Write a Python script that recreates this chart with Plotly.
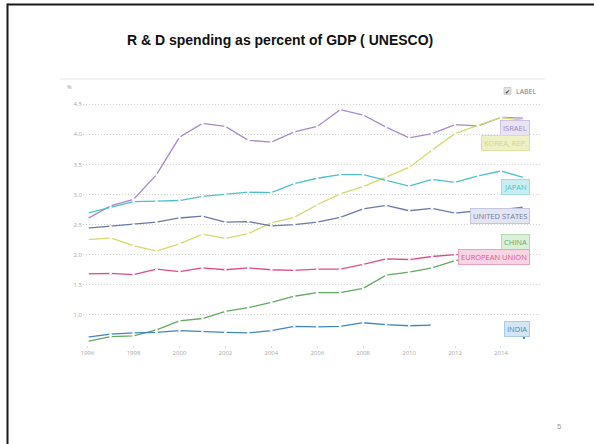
import plotly.graph_objects as go

years = list(range(1996, 2016))

israel = [2.60, 2.81, 2.92, 3.33, 3.95, 4.18, 4.13, 3.90, 3.87, 4.04, 4.13, 4.41, 4.32, 4.12, 3.94, 4.01, 4.16, 4.14, 4.28, 4.27]
korea = [2.25, 2.28, 2.15, 2.06, 2.18, 2.34, 2.27, 2.35, 2.53, 2.62, 2.83, 3.01, 3.13, 3.29, 3.45, 3.74, 4.01, 4.15, 4.28, 4.23]
japan = [2.69, 2.78, 2.88, 2.89, 2.90, 2.97, 3.01, 3.04, 3.03, 3.18, 3.27, 3.33, 3.33, 3.23, 3.14, 3.25, 3.20, 3.31, 3.39, 3.28]
usa = [2.44, 2.47, 2.50, 2.54, 2.61, 2.64, 2.54, 2.55, 2.48, 2.50, 2.54, 2.62, 2.76, 2.82, 2.73, 2.77, 2.69, 2.73, 2.75, 2.79]
eu = [1.68, 1.69, 1.67, 1.76, 1.72, 1.78, 1.75, 1.78, 1.75, 1.74, 1.76, 1.76, 1.84, 1.93, 1.92, 1.97, 2.00, 2.01, 2.03, 2.04]
china = [0.56, 0.64, 0.65, 0.75, 0.90, 0.94, 1.06, 1.12, 1.21, 1.31, 1.37, 1.37, 1.44, 1.66, 1.71, 1.78, 1.90, 1.96, 2.03, 2.07]
india = [0.63, 0.68, 0.70, 0.71, 0.74, 0.72, 0.71, 0.70, 0.74, 0.81, 0.80, 0.81, 0.87, 0.84, 0.82, 0.83, None, None, None, 0.62]

series_names = ["ISRAEL", "KOREA, REP.", "JAPAN", "UNITED STATES", "CHINA", "EUROPEAN UNION", "INDIA"]
series_values = [israel, korea, japan, usa, china, eu, india]
line_colors = ["#a58bc8", "#d5d96e", "#4fc0ca", "#6b78a9", "#64a863", "#df4a88", "#3f86c0"]
label_bg = ["#e9e3f2", "#eef0c8", "#c9eef1", "#e3e5f0", "#dcefda", "#f8d5e3", "#d4e6f4"]
label_border = ["#cfc3e2", "#dde0a0", "#9fdde2", "#c2c7de", "#b7dcb4", "#ee9fbf", "#a9cbe8"]
label_text = ["#9c86c2", "#d3d67e", "#52c0c8", "#6f7aa8", "#67a867", "#df568d", "#4a87c0"]
label_y = [4.11, 3.86, 3.13, 2.64, 2.21, 1.955, 0.77]

ytick_vals = [1.0, 1.5, 2.0, 2.5, 3.0, 3.5, 4.0, 4.5]
xtick_vals = list(range(1996, 2016, 2))

W, H = 594, 444
L, R, T, B = 83, 52, 98, 99
PW, PH = W - L - R, H - T - B


def px(x):
    return (x - L) / PW


def py(y):
    return (H - B - y) / PH


fig = go.Figure()
for name, vals, col in zip(series_names, series_values, line_colors):
    mcolors = []
    for i, v in enumerate(vals):
        prev_ok = i > 0 and vals[i - 1] is not None
        next_ok = i < len(vals) - 1 and vals[i + 1] is not None
        mcolors.append("white" if (prev_ok or next_ok) else col)
    fig.add_trace(go.Scatter(
        x=years, y=vals, name=name, mode="lines+markers",
        line=dict(color=col, width=1.3),
        marker=dict(size=2.5, color=mcolors, line=dict(width=0)),
        connectgaps=False, showlegend=False, hoverinfo="x+y+name",
    ))

annotations = []
for name, yv, bg, bd, tc in zip(series_names, label_y, label_bg, label_border, label_text):
    annotations.append(dict(
        x=2015.27, y=yv, xref="x", yref="y", xanchor="right", yanchor="middle",
        text=name, showarrow=False,
        font=dict(family="Open Sans", size=7.5, color=tc),
        bgcolor=bg, bordercolor=bd, borderwidth=1, borderpad=2,
    ))

annotations += [
    dict(x=px(280), y=py(40), xref="paper", yref="paper", text="<b>R & D spending as percent of GDP ( UNESCO)</b>",
         showarrow=False, xanchor="center", yanchor="middle",
         font=dict(family="Liberation Sans, Arial", size=14, color="#111111")),
    dict(x=px(69), y=py(87), xref="paper", yref="paper", text="%", showarrow=False,
         xanchor="center", yanchor="middle", font=dict(family="Open Sans", size=5.5, color="#999999")),
    dict(x=px(514), y=py(91), xref="paper", yref="paper", text="LABEL", showarrow=False,
         xanchor="left", yanchor="middle", font=dict(family="Open Sans", size=7, color="#777777")),
    dict(x=px(507.5), y=py(91), xref="paper", yref="paper", text="✔", showarrow=False,
         xanchor="center", yanchor="middle", font=dict(family="DejaVu Sans", size=6, color="#333333")),
    dict(x=px(559), y=py(426), xref="paper", yref="paper", text="5", showarrow=False,
         xanchor="center", yanchor="middle", font=dict(family="Liberation Sans, Arial", size=8, color="#999999")),
]

shapes = [
    # slide border
    dict(type="line", xref="paper", yref="paper", x0=px(7.5), x1=px(600), y0=py(4.5), y1=py(4.5),
         line=dict(color="#1a1a1a", width=2)),
    dict(type="line", xref="paper", yref="paper", x0=px(7.5), x1=px(7.5), y0=py(3.5), y1=py(450),
         line=dict(color="#1a1a1a", width=2)),
    # separator below title
    dict(type="line", xref="paper", yref="paper", x0=px(60), x1=px(545), y0=py(79), y1=py(79),
         line=dict(color="#e6e6e6", width=1)),
    # checkbox
    dict(type="rect", xref="paper", yref="paper", x0=px(504), x1=px(511), y0=py(87.5), y1=py(94.5),
         fillcolor="#e4e4e4", line=dict(color="#bbbbbb", width=0.6)),
]

fig.update_layout(
    width=W, height=H,
    margin=dict(l=L, r=R, t=T, b=B, autoexpand=False),
    paper_bgcolor="white", plot_bgcolor="white",
    annotations=annotations, shapes=shapes,
    xaxis=dict(range=[1995.8, 1996 + (PW - 4.5) / 22.97], tickvals=xtick_vals,
               showgrid=False, zeroline=False, showline=False,
               ticks="outside", ticklen=2, tickcolor="#dddddd",
               tickfont=dict(family="Open Sans", size=6, color="#aaaaaa")),
    yaxis=dict(range=[0.5, 0.5 + PH / 60.2], tickvals=ytick_vals, tickformat=".1f",
               showgrid=True, gridcolor="#d4d4d4", griddash="1px,2px", gridwidth=1,
               zeroline=False, showline=False, ticks="",
               tickfont=dict(family="Open Sans", size=6, color="#aaaaaa")),
)

fig.write_html(
    "out.html",
    config={"displayModeBar": False},
    post_script="document.body.style.margin='0';document.body.style.overflow='hidden';",
)
